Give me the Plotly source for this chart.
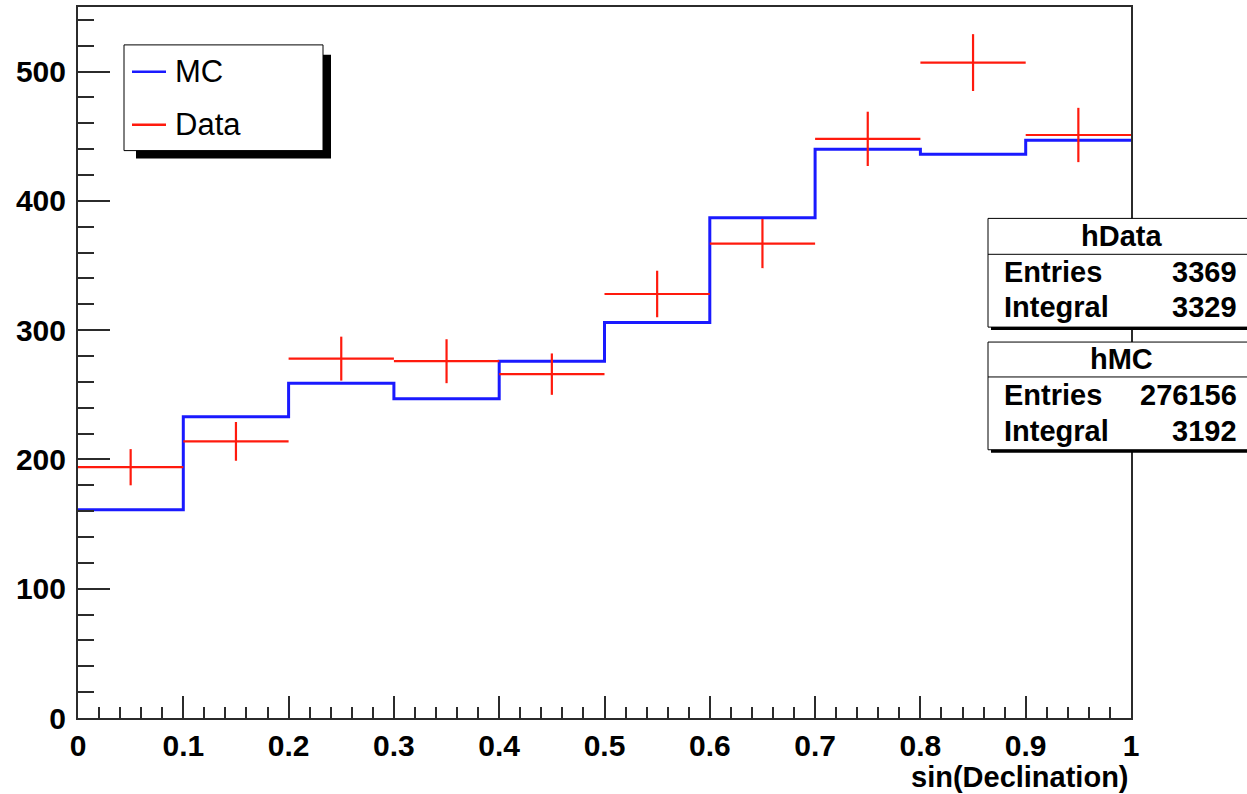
import plotly.graph_objects as go

# ---------------- data ----------------
bin_edges = [0.0, 0.1, 0.2, 0.3, 0.4, 0.5, 0.6, 0.7, 0.8, 0.9, 1.0]
bin_centers = [0.05, 0.15, 0.25, 0.35, 0.45, 0.55, 0.65, 0.75, 0.85, 0.95]
bin_half_widths = [0.05] * 10
mc_counts = [161, 233, 259, 247, 276, 306, 387, 440, 436, 447]
data_counts = [194, 214, 278, 276, 266, 328, 367, 448, 507, 451]
data_errors = [14, 15, 17, 17, 16, 18, 19, 21, 22, 21]

legend_labels = ["MC", "Data"]
stats_titles = ["hData", "hMC"]
stats_row_labels = ["Entries", "Integral"]
stats_values = [["3369", "3329"], ["276156", "3192"]]
x_title = "sin(Declination)"

# ---------------- geometry helpers (pixel -> paper) ----------------
W, H = 1247, 794
L, R, T, B = 78, 1131, 5, 718


def px(x):
    return (x - L) / (R - L)


def py(y):
    return (B - y) / (B - T)


FONT = "Liberation Sans, Arial, Helvetica, sans-serif"
BLUE = "#1a1aff"
RED = "#ff1a0d"

fig = go.Figure()

# MC histogram as a step line
fig.add_trace(go.Scatter(
    x=bin_edges,
    y=mc_counts + [mc_counts[-1]],
    mode="lines",
    line=dict(color=BLUE, width=3, shape="hv"),
    name="MC",
    hoverinfo="skip",
))

# Data as error crosses
fig.add_trace(go.Scatter(
    x=bin_centers,
    y=data_counts,
    mode="markers",
    marker=dict(size=0.1, color=RED),
    error_x=dict(type="data", array=bin_half_widths, color=RED, thickness=2.2, width=0),
    error_y=dict(type="data", array=data_errors, color=RED, thickness=2.2, width=0),
    name="Data",
))

axis_color = "#2b2b2b"
fig.update_layout(
    width=W, height=H,
    margin=dict(l=L, r=W - R, t=T, b=H - B),
    plot_bgcolor="white", paper_bgcolor="white",
    showlegend=False,
    font=dict(family=FONT, color="black"),
    xaxis=dict(
        range=[0, 1], tick0=0, dtick=0.1,
        ticks="inside", ticklen=22, tickwidth=1.5, tickcolor=axis_color,
        showline=True, linecolor=axis_color, linewidth=2, mirror=True,
        showgrid=False, zeroline=False,
        tickfont=dict(size=30, family=FONT, weight="bold", color="black"),
        ticklabelstandoff=0,
        minor=dict(dtick=0.02, tick0=0, ticks="inside", ticklen=11,
                   tickwidth=1.5, tickcolor=axis_color, showgrid=False),
    ),
    yaxis=dict(
        range=[0, 550], tick0=0, dtick=100,
        ticks="inside", ticklen=32, tickwidth=1.5, tickcolor=axis_color,
        showline=True, linecolor=axis_color, linewidth=2, mirror=True,
        showgrid=False, zeroline=False,
        tickfont=dict(size=30, family=FONT, weight="bold", color="black"),
        ticklabelstandoff=4,
        minor=dict(dtick=20, tick0=0, ticks="inside", ticklen=16,
                   tickwidth=1.5, tickcolor=axis_color, showgrid=False),
    ),
)

shapes = []
annotations = []

# ---------------- legend box ----------------
shapes.append(dict(type="rect", xref="paper", yref="paper",
                   x0=px(136), x1=px(331), y0=py(157), y1=py(53),
                   fillcolor="black", line=dict(width=0), layer="above"))
shapes.append(dict(type="rect", xref="paper", yref="paper",
                   x0=px(124), x1=px(323), y0=py(149), y1=py(43),
                   fillcolor="white", line=dict(color="black", width=1), layer="above"))
legend_colors = [BLUE, RED]
legend_rows_y = [70, 123]
for lab, col, yy in zip(legend_labels, legend_colors, legend_rows_y):
    shapes.append(dict(type="line", xref="paper", yref="paper",
                       x0=px(132), x1=px(166), y0=py(yy), y1=py(yy),
                       line=dict(color=col, width=2.5), layer="above"))
    annotations.append(dict(xref="paper", yref="paper", x=px(173), y=py(yy),
                            text=lab, showarrow=False, xanchor="left", yanchor="middle",
                            font=dict(size=31, family=FONT, color="black")))

# ---------------- stats boxes ----------------
box_tops = [217, 341]
box_bottoms = [326, 449]
box_dividers = [253, 376]
title_ys = [235, 358]
row_ys = [[271, 306], [394, 430]]
for i in range(2):
    shapes.append(dict(type="rect", xref="paper", yref="paper",
                       x0=px(991), x1=px(1260), y0=py(box_bottoms[i] + 3), y1=py(box_tops[i] + 3),
                       fillcolor="black", line=dict(width=0), layer="above"))
    shapes.append(dict(type="rect", xref="paper", yref="paper",
                       x0=px(988), x1=px(1260), y0=py(box_bottoms[i]), y1=py(box_tops[i]),
                       fillcolor="white", line=dict(color="black", width=1), layer="above"))
    shapes.append(dict(type="line", xref="paper", yref="paper",
                       x0=px(988), x1=px(1260), y0=py(box_dividers[i]), y1=py(box_dividers[i]),
                       line=dict(color="black", width=1), layer="above"))
    annotations.append(dict(xref="paper", yref="paper", x=px(1121), y=py(title_ys[i]),
                            text=stats_titles[i], showarrow=False, xanchor="center", yanchor="middle",
                            font=dict(size=29, family=FONT, weight="bold", color="black")))
    for j in range(2):
        annotations.append(dict(xref="paper", yref="paper", x=px(1002), y=py(row_ys[i][j]),
                                text=stats_row_labels[j], showarrow=False,
                                xanchor="left", yanchor="middle",
                                font=dict(size=29, family=FONT, weight="bold", color="black")))
        annotations.append(dict(xref="paper", yref="paper", x=px(1239), y=py(row_ys[i][j]),
                                text=stats_values[i][j], showarrow=False,
                                xanchor="right", yanchor="middle",
                                font=dict(size=29, family=FONT, weight="bold", color="black")))

# ---------------- axis title ----------------
annotations.append(dict(xref="paper", yref="paper", x=px(1130), y=py(794),
                        text=x_title, showarrow=False, xanchor="right", yanchor="bottom",
                        borderpad=0,
                        font=dict(size=29, family=FONT, weight="bold", color="black")))

fig.update_layout(shapes=shapes, annotations=annotations)

fig.write_html("out.html",
               config={"displayModeBar": False},
               post_script="document.body.style.margin='0px';document.body.style.overflow='hidden';")
